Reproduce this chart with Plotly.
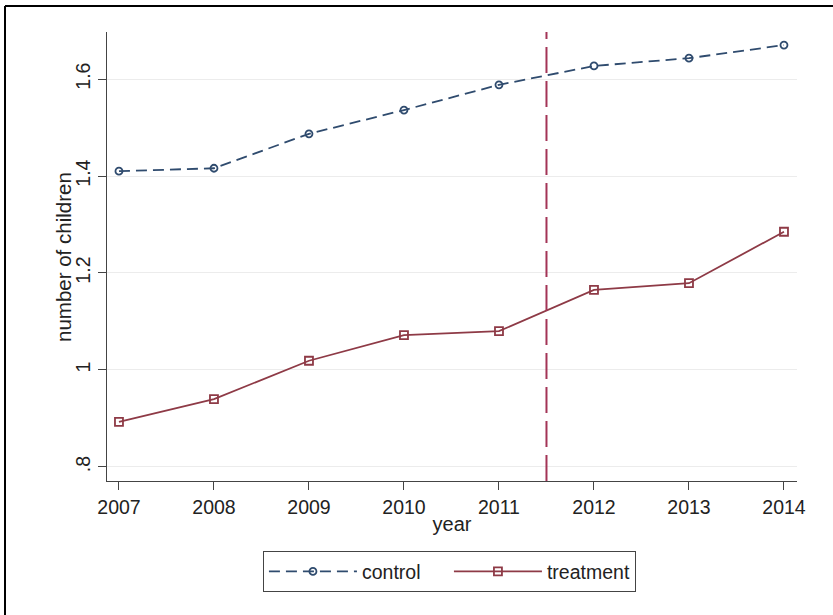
import plotly.graph_objects as go

years = [2007, 2008, 2009, 2010, 2011, 2012, 2013, 2014]
control = [1.410, 1.416, 1.487, 1.536, 1.588, 1.627, 1.643, 1.670]
treatment = [0.893, 0.940, 1.019, 1.072, 1.080, 1.165, 1.179, 1.285]
cutoff_year = 2011.5
y_ticks = [0.8, 1.0, 1.2, 1.4, 1.6]
y_tick_labels = [".8", "1", "1.2", "1.4", "1.6"]

navy = "#2f4b6e"
maroon = "#8e3a46"
vline_color = "#a33456"

fig = go.Figure()
fig.add_trace(go.Scatter(
    x=years, y=control, name="control", mode="lines+markers",
    line=dict(color=navy, width=1.8, dash="11px,6px"),
    marker=dict(symbol="circle-open", size=7, color=navy, line=dict(width=1.8)),
))
fig.add_trace(go.Scatter(
    x=years, y=treatment, name="treatment", mode="lines+markers",
    line=dict(color=maroon, width=1.8),
    marker=dict(symbol="square-open", size=8, color=maroon, line=dict(width=1.8)),
))

fig.add_shape(type="line", xref="x", yref="paper", x0=cutoff_year, x1=cutoff_year,
              y0=0, y1=1.0, line=dict(color=vline_color, width=2, dash="26px,8px"))

# outer frame (left and top edges only, as in the reference)
fig.add_shape(type="line", xref="paper", yref="paper",
              x0=(5 - 107) / 690, x1=(5 - 107) / 690, y0=(481 - 615) / 449, y1=(481 - 6) / 449,
              line=dict(color="black", width=2))
fig.add_shape(type="line", xref="paper", yref="paper",
              x0=(5 - 107) / 690, x1=(833 - 107) / 690, y0=(481 - 6) / 449, y1=(481 - 6) / 449,
              line=dict(color="black", width=2))

fam = "Liberation Sans, Arial, sans-serif"
font = dict(family=fam, size=20, color="#222222")

fig.add_annotation(
    text="number of children", xref="paper", yref="paper",
    x=(63 - 107) / 690, y=(481 - 257) / 449, xanchor="center", yanchor="middle",
    textangle=-90, showarrow=False, font=dict(family=fam, size=20.5, color="#222222"),
)

fig.update_layout(
    width=833, height=615,
    margin=dict(l=107, r=36, t=32, b=134),
    paper_bgcolor="white", plot_bgcolor="white",
    font=font,
    showlegend=True,
    legend=dict(
        orientation="h", x=0.496, xanchor="center", y=-0.156, yanchor="top",
        bordercolor="#444444", borderwidth=1.2, bgcolor="white",
        font=dict(family=fam, size=19.5, color="#222222"),
        itemwidth=88, entrywidth=82, tracegroupgap=0,
    ),
    xaxis=dict(
        range=[2006.874, 2014.137], tickmode="array", tickvals=years,
        ticktext=[str(y) for y in years],
        showgrid=False, zeroline=False,
        showline=True, linecolor="#444444", linewidth=1.2,
        ticks="outside", ticklen=8, tickcolor="#444444", tickwidth=1.2,
        tickfont=dict(family=fam, size=19.5),
        title=dict(text="year", standoff=0, font=dict(family=fam, size=20)),
    ),
    yaxis=dict(
        range=[0.771, 1.697], tickmode="array", tickvals=y_ticks, ticktext=y_tick_labels,
        tickangle=-90,
        showgrid=True, gridcolor="#ececec", gridwidth=1, zeroline=False,
        showline=True, linecolor="#444444", linewidth=1.2,
        ticks="outside", ticklen=8, tickcolor="#444444", tickwidth=1.2,
        tickfont=dict(family=fam, size=19.5),
    ),
)

fig.write_html("out.html")
